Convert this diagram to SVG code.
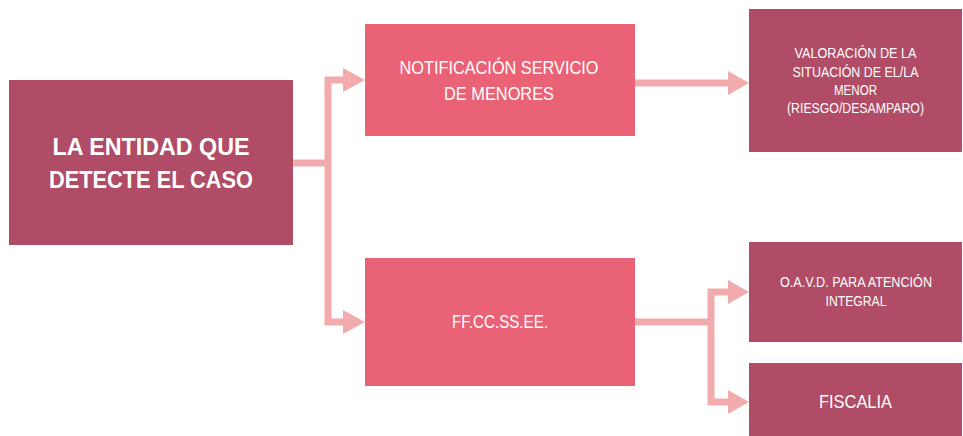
<svg xmlns="http://www.w3.org/2000/svg" width="963" height="436" viewBox="0 0 963 436">
<style>
.dark{fill:#B04C65}
.mid{fill:#E96275}
.t{font-family:"Liberation Sans",Arial,sans-serif;fill:#FFFFFF;text-anchor:middle}
.b{font-weight:bold;font-size:24px}
.m{font-size:19px}
.s{font-size:15px}
.conn{fill:none;stroke:#F2ABAD;stroke-width:7}
.head{fill:#F2ABAD}
</style>
<rect width="963" height="436" fill="#FFFFFF"/>
<g id="connectors">
<path class="conn" d="M293,163 H328"/>
<path class="conn" d="M346,80 H328 V322 H346"/>
<polygon class="head" points="343,68 365,80 343,92"/>
<polygon class="head" points="343,310 365,322 343,334"/>
<path class="conn" d="M635,83 H730"/>
<polygon class="head" points="728,71 749,83 728,95"/>
<path class="conn" d="M635,322 H711"/>
<path class="conn" d="M730,292 H711 V402 H730"/>
<polygon class="head" points="728,280 749,292 728,304"/>
<polygon class="head" points="728,390 749,402 728,414"/>
</g>
<g id="entidad">
<rect class="dark" x="9" y="80" width="284" height="165"/>
<text class="t b" x="151" y="155" textLength="197" lengthAdjust="spacingAndGlyphs">LA ENTIDAD QUE</text>
<text class="t b" x="151" y="188" textLength="204" lengthAdjust="spacingAndGlyphs">DETECTE EL CASO</text>
</g>
<g id="notificacion">
<rect class="mid" x="365" y="24" width="270" height="112"/>
<text class="t m" x="499" y="74" textLength="199" lengthAdjust="spacingAndGlyphs">NOTIFICACIÓN SERVICIO</text>
<text class="t m" x="499" y="100" textLength="110" lengthAdjust="spacingAndGlyphs">DE MENORES</text>
</g>
<g id="ffccssee">
<rect class="mid" x="365" y="258" width="270" height="128"/>
<text class="t m" x="500" y="328" textLength="96" lengthAdjust="spacingAndGlyphs">FF.CC.SS.EE.</text>
</g>
<g id="valoracion">
<rect class="dark" x="749" y="9" width="213" height="143"/>
<text class="t s" x="855.5" y="58" textLength="122" lengthAdjust="spacingAndGlyphs">VALORACIÓN DE LA</text>
<text class="t s" x="855.5" y="77" textLength="126" lengthAdjust="spacingAndGlyphs">SITUACIÓN DE EL/LA</text>
<text class="t s" x="855.5" y="95" textLength="43" lengthAdjust="spacingAndGlyphs">MENOR</text>
<text class="t s" x="855.5" y="113" textLength="137" lengthAdjust="spacingAndGlyphs">(RIESGO/DESAMPARO)</text>
</g>
<g id="oavd">
<rect class="dark" x="749" y="242" width="213" height="100"/>
<text class="t s" x="856" y="287" textLength="152" lengthAdjust="spacingAndGlyphs">O.A.V.D. PARA ATENCIÓN</text>
<text class="t s" x="856" y="306" textLength="61" lengthAdjust="spacingAndGlyphs">INTEGRAL</text>
</g>
<g id="fiscalia">
<rect class="dark" x="749" y="363" width="213" height="73"/>
<text class="t m" x="855.5" y="408" textLength="73" lengthAdjust="spacingAndGlyphs">FISCALIA</text>
</g>
</svg>
